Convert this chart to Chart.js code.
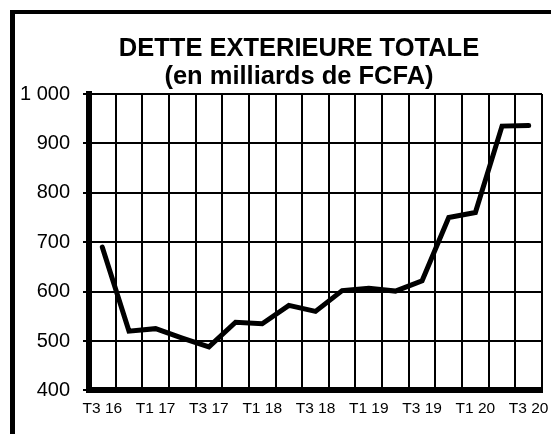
<!DOCTYPE html>
<html lang="fr">
<head>
<meta charset="utf-8">
<title>Dette extérieure totale</title>
<script src="https://cdn.jsdelivr.net/npm/chart.js@4/dist/chart.umd.min.js"></script>
<style>
    html, body {
        margin: 0;
        padding: 0;
        background: #fff;
        overflow: hidden;
    }
    .page-wrapper {
        position: relative;
        width: 551px;
        height: 434px;
    }
    /* cadre noir en haut et à gauche */
    .cadre {
        position: absolute;
        left: 10px;
        top: 10px;
        width: 600px;
        height: 500px;
        border-left: 5px solid #000;
        border-top: 4px solid #000;
        pointer-events: none;
    }
    /* titre centré un peu à droite du milieu, comme dans le rapport */
    .titre {
        position: absolute;
        left: 0;
        top: 33px;
        width: 598px;
        text-align: center;
        font-family: "Liberation Sans", Arial, sans-serif;
        font-weight: bold;
        font-size: 25.5px;
        line-height: 28px;
        color: #000;
        pointer-events: none;
    }
</style>
</head>
<body>
<div class="page-wrapper">
    <canvas id="detteChart" width="551" height="434"></canvas>
    <div class="cadre"></div>
    <div class="titre" id="titre"></div>
</div>
<script>
// trimestres (T3 2016 -> T3 2020)
const trimestres = ["T3 16", "T4 16", "T1 17", "T2 17", "T3 17", "T4 17", "T1 18", "T2 18", "T3 18",
    "T4 18", "T1 19", "T2 19", "T3 19", "T4 19", "T1 20", "T2 20", "T3 20"];
// dette extérieure, en milliards de FCFA
const detteExterieure = [690, 520, 525, 506, 488, 538, 535, 572, 560, 602, 607, 601, 622, 750, 760, 935, 936];
const axeMin = 400;
const axeMax = 1000;
const pasAxe = 100;
const titre = ["DETTE EXTERIEURE TOTALE", "(en milliards de FCFA)"];

const police = "'Liberation Sans', Arial, sans-serif";

function formatMilliers(value) {
    // 1000 -> "1 000"
    return String(value).replace(/\B(?=(\d{3})+(?!\d))/g, " ");
}

function afficherTitre() {
    const bloc = document.getElementById("titre");
    titre.forEach((ligne) => {
        const div = document.createElement("div");
        div.textContent = ligne;
        bloc.appendChild(div);
    });
}

function initialize() {
    afficherTitre();

    const ctx = document.getElementById("detteChart").getContext("2d");
    new Chart(ctx, {
        type: "line",
        data: {
            labels: trimestres,
            datasets: [
                {
                    label: "Dette extérieure",
                    data: detteExterieure,
                    borderColor: "#000",
                    borderWidth: 5,
                    borderCapStyle: "round",
                    pointRadius: 0,
                    tension: 0,
                    fill: false
                }
            ]
        },
        options: {
            responsive: false,
            animation: false,
            layout: {
                padding: { left: 10, right: 9, top: 94, bottom: 7 }
            },
            plugins: {
                legend: { display: false },
                tooltip: { enabled: false },
                title: { display: false }
            },
            scales: {
                x: {
                    offset: true,
                    afterFit: function (scale) {
                        // pas de marge ajoutée pour les libellés des extrémités
                        scale.paddingLeft = 0;
                        scale.paddingRight = 0;
                    },
                    grid: {
                        offset: true,
                        color: "#000",
                        lineWidth: 2,
                        drawTicks: false
                    },
                    border: { color: "#000", width: 6 },
                    ticks: {
                        autoSkip: false,
                        maxRotation: 0,
                        padding: 9,
                        color: "#000",
                        font: { family: police, size: 15.5, lineHeight: 1.2 },
                        // un trimestre sur deux
                        callback: function (value, index) {
                            return index % 2 === 0 ? trimestres[index] : "";
                        }
                    }
                },
                y: {
                    min: axeMin,
                    max: axeMax,
                    afterFit: function (scale) {
                        scale.width = 79;
                    },
                    grid: {
                        color: "#000",
                        lineWidth: 2,
                        tickLength: 6
                    },
                    border: { color: "#000", width: 6 },
                    ticks: {
                        stepSize: pasAxe,
                        padding: 13,
                        color: "#000",
                        font: { family: police, size: 20 },
                        callback: function (value) {
                            return formatMilliers(value);
                        }
                    }
                }
            }
        }
    });
}

initialize();
</script>
</body>
</html>
